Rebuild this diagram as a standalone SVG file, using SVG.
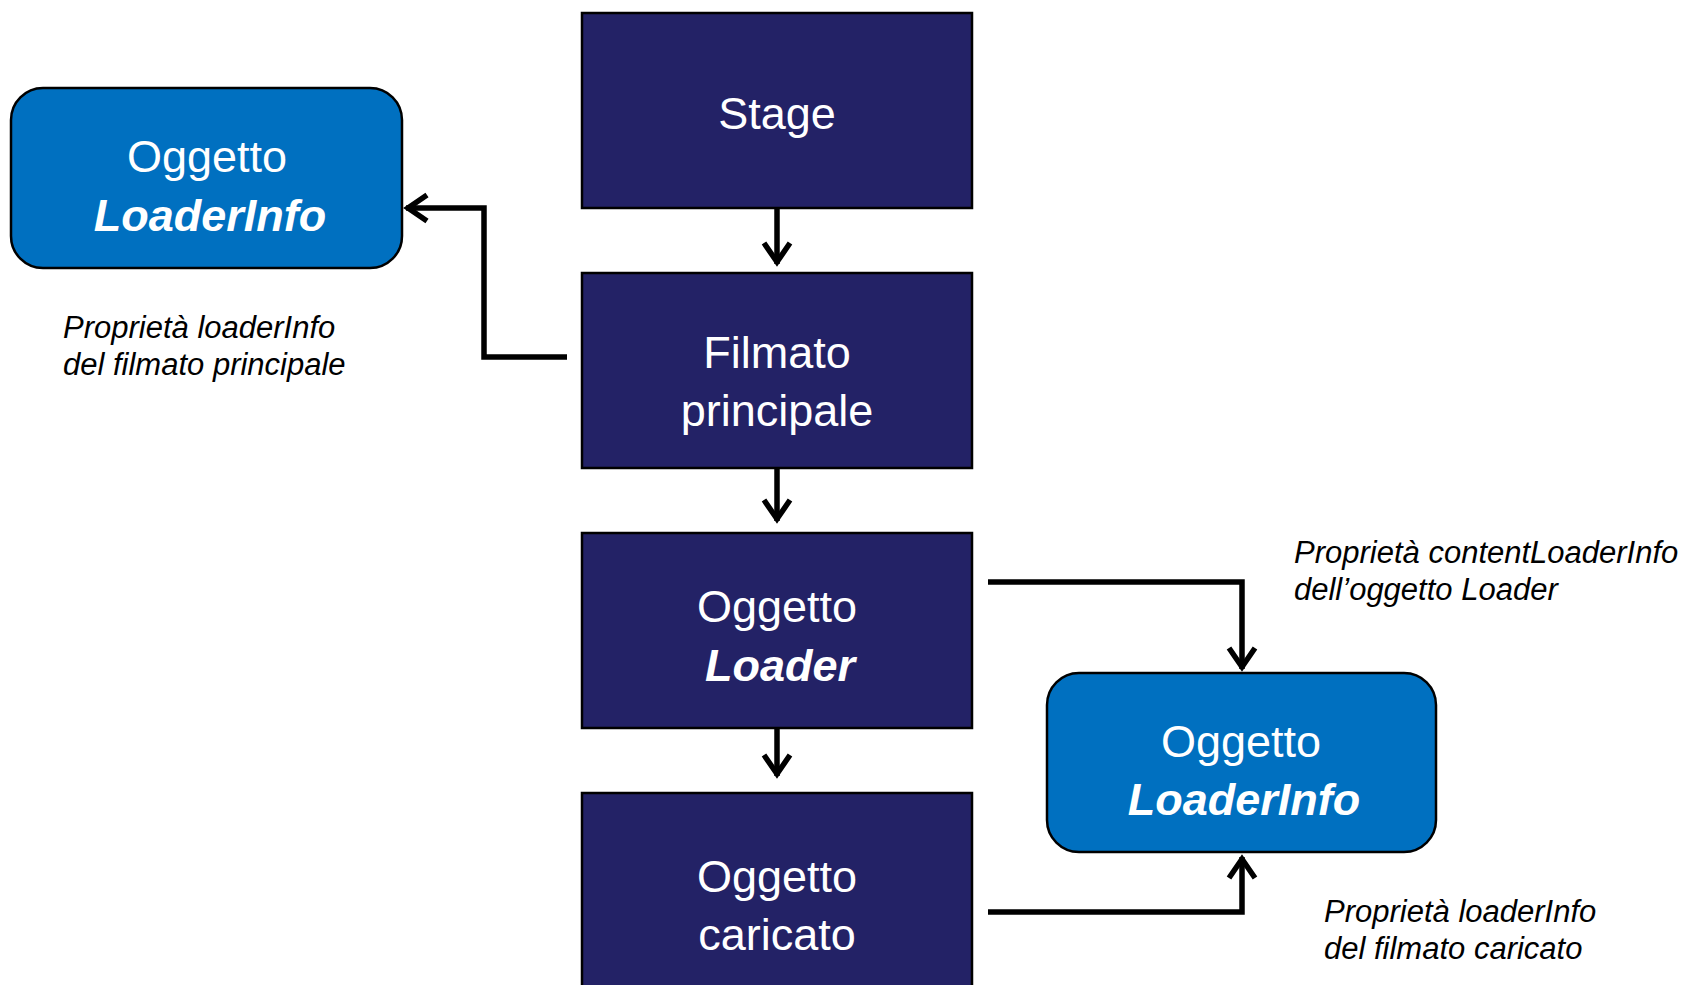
<svg xmlns="http://www.w3.org/2000/svg" width="1691" height="985" viewBox="0 0 1691 985">
<style>
.main{fill:#232266;stroke:#000;stroke-width:2.5}
.info{fill:#0070c0;stroke:#000;stroke-width:2.5}
.t{font-family:"Liberation Sans",Arial,sans-serif;font-size:45px;fill:#fff;text-anchor:middle}
.ti{font-style:italic;font-weight:bold}
.lab{font-family:"Liberation Sans",Arial,sans-serif;font-size:31px;font-style:italic;fill:#000}
.c{fill:none;stroke:#000;stroke-width:5.5;stroke-linejoin:miter}
</style>
<defs>
<marker id="ah" markerUnits="userSpaceOnUse" markerWidth="40" markerHeight="40" viewBox="-30 -20 40 40" refX="0" refY="0" orient="auto">
<path d="M-21,-13 L-2,0 L-21,13" fill="none" stroke="#000" stroke-width="5.5" stroke-linejoin="miter"/>
</marker>
</defs>
<g id="connectors">
<path class="c" d="M777,208 L777,264" marker-end="url(#ah)"/>
<path class="c" d="M777,468 L777,521" marker-end="url(#ah)"/>
<path class="c" d="M777,728 L777,776" marker-end="url(#ah)"/>
<path class="c" d="M567,357 L484,357 L484,208 L406,208" marker-end="url(#ah)"/>
<path class="c" d="M988,582 L1242,582 L1242,669" marker-end="url(#ah)"/>
<path class="c" d="M988,912 L1242,912 L1242,857" marker-end="url(#ah)"/>
</g>
<g id="stage">
<rect class="main" x="582" y="13" width="390" height="195"/>
<text class="t" x="777" y="129">Stage</text>
</g>
<g id="filmato">
<rect class="main" x="582" y="273" width="390" height="195"/>
<text class="t" x="777" y="368">Filmato</text>
<text class="t" x="777" y="426">principale</text>
</g>
<g id="loader">
<rect class="main" x="582" y="533" width="390" height="195"/>
<text class="t" x="777" y="622">Oggetto</text>
<text class="t ti" x="780" y="681">Loader</text>
</g>
<g id="caricato">
<rect class="main" x="582" y="793" width="390" height="200"/>
<text class="t" x="777" y="892">Oggetto</text>
<text class="t" x="777" y="950">caricato</text>
</g>
<g id="loaderinfo1">
<rect class="info" x="11" y="88" width="391" height="180" rx="32" ry="32"/>
<text class="t" x="207" y="172">Oggetto</text>
<text class="t ti" x="210" y="231">LoaderInfo</text>
</g>
<g id="loaderinfo2">
<rect class="info" x="1047" y="673" width="389" height="179" rx="32" ry="32"/>
<text class="t" x="1241" y="757">Oggetto</text>
<text class="t ti" x="1244" y="815">LoaderInfo</text>
</g>
<g id="labels">
<text class="lab" x="63" y="338">Proprietà loaderInfo</text>
<text class="lab" x="63" y="375">del filmato principale</text>
<text class="lab" x="1294" y="563">Proprietà contentLoaderInfo</text>
<text class="lab" x="1294" y="600">dell’oggetto Loader</text>
<text class="lab" x="1324" y="922">Proprietà loaderInfo</text>
<text class="lab" x="1324" y="959">del filmato caricato</text>
</g>
</svg>
